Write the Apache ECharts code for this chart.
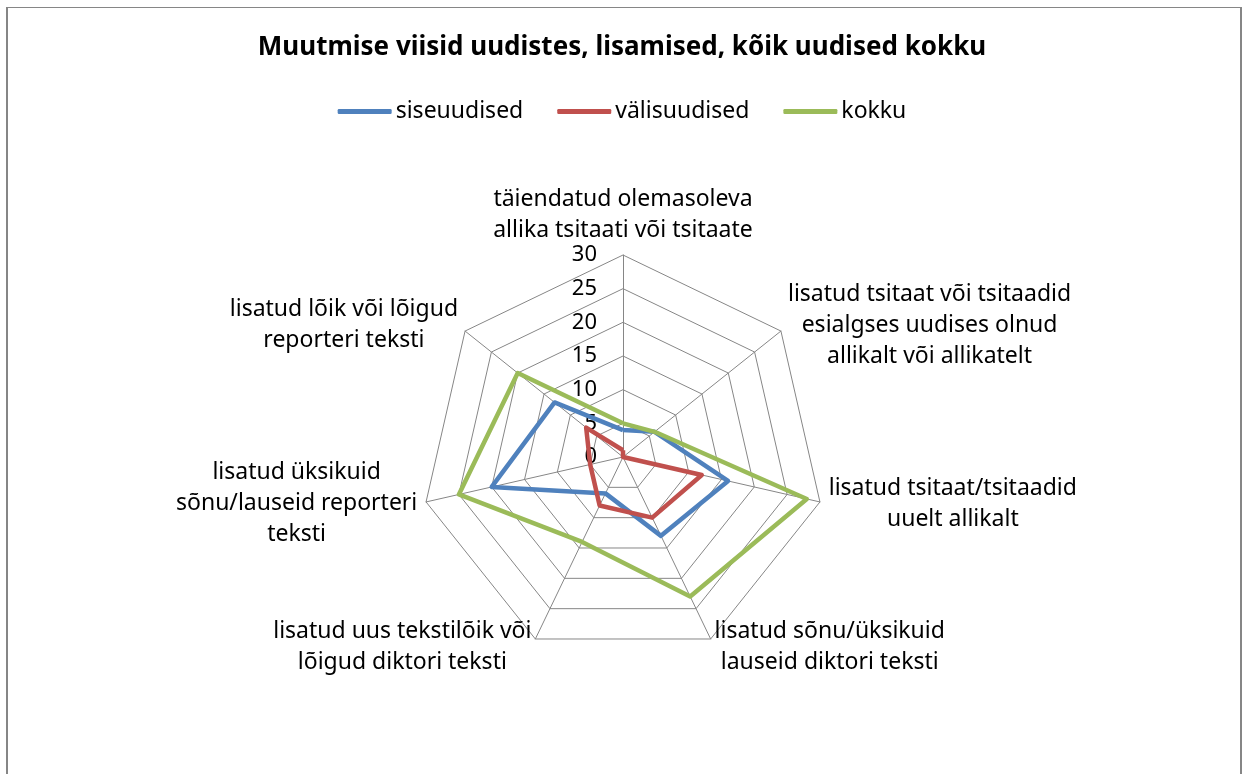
<!DOCTYPE html>
<html>
<head>
<meta charset="utf-8">
<title>Muutmise viisid uudistes</title>
<script src="https://cdn.jsdelivr.net/npm/echarts@6/dist/echarts.min.js"></script>
<style>
  html, body { margin: 0; padding: 0; background: #fff; }
  #wrap { position: relative; width: 1244px; height: 774px; overflow: hidden; }
  #frame { position: absolute; left: 6px; top: 7px; width: 1232px; height: 800px;
           border-left: 2px solid #868686; border-right: 2px solid #868686; border-top: 1px solid #868686; }
  #chart { position: absolute; left: 0; top: 0; width: 1244px; height: 774px; }
</style>
</head>
<body>
<div id="wrap">
  <div id="frame"></div>
  <div id="chart"></div>
</div>
<script>
// kategooriad (radari teljed, päripäeva ülevalt)
const categories = [
  'täiendatud olemasoleva\nallika tsitaati või tsitaate',
  'lisatud tsitaat või tsitaadid\nesialgses uudises olnud\nallikalt või allikatelt',
  'lisatud tsitaat/tsitaadid\nuuelt allikalt',
  'lisatud sõnu/üksikuid\nlauseid diktori teksti',
  'lisatud uus tekstilõik või\nlõigud diktori teksti',
  'lisatud üksikuid\nsõnu/lauseid reporteri\nteksti',
  'lisatud lõik või lõigud\nreporteri teksti'
]
const seriesNames = ['siseuudised', 'välisuudised', 'kokku']
const siseuudised = [4, 6, 16, 13, 6, 20, 13]
const valisuudised = [1, 0, 12, 10, 8, 5, 7]
const kokku = [5, 6, 28, 23, 14, 25, 20]
const axisMin = 0
const axisMax = 30
const axisStep = 5

const colors = ['#4F81BD', '#C0504D', '#9BBB59']
const font = '"Noto Sans", "DejaVu Sans", sans-serif'

const chart = echarts.init(document.getElementById('chart'))

// echarts paneb teljed vastupäeva, Excel päripäeva -> järjekord ümber (esimene jääb üles)
const order = categories.map((c, i) => (i === 0 ? 0 : categories.length - i))

const indicator = order.map((k, i) => {
  const ind = { name: categories[k], min: axisMin, max: axisMax }
  if (i === 0) ind.axisLabel = { show: true }
  return ind
})

const values = [siseuudised, valisuudised, kokku].map(arr => order.map(k => arr[k]))

const option = {
  backgroundColor: 'transparent',
  title: {
    text: 'Muutmise viisid uudistes, lisamised, kõik uudised kokku',
    left: 'center',
    top: 30,
    textStyle: { fontFamily: font, fontSize: 26, fontWeight: 'bold', color: '#000' }
  },
  legend: {
    top: 95,
    left: 'center',
    itemWidth: 54,
    itemHeight: 5,
    itemGap: 34,
    icon: 'roundRect',
    data: seriesNames,
    textStyle: { fontFamily: font, fontSize: 23, color: '#000', padding: [0, 0, 0, -1] }
  },
  radar: {
    center: [623, 457],
    radius: 202,
    startAngle: 90,
    shape: 'polygon',
    splitNumber: (axisMax - axisMin) / axisStep,
    indicator: indicator,
    nameGap: 9,
    axisName: {
      color: '#000',
      fontFamily: font,
      fontSize: 23,
      formatter: function (name) { return '{a|' + name + '}' },
      rich: {
        a: { align: 'center', fontFamily: font, fontSize: 23, lineHeight: 31, color: '#000' }
      }
    },
    axisLine: { lineStyle: { color: '#868686', width: 1 } },
    splitLine: { lineStyle: { color: '#868686', width: 1 } },
    splitArea: { show: false },
    axisTick: { show: false },
    axisLabel: {
      show: false,
      color: '#000',
      fontFamily: font,
      fontSize: 22,
      margin: 26
    }
  },
  series: [{
    type: 'radar',
    symbol: 'none',
    silent: true,
    data: seriesNames.map((n, i) => ({
      name: n,
      value: values[i],
      lineStyle: { color: colors[i], width: 4.5 },
      itemStyle: { color: colors[i] }
    }))
  }]
}

chart.setOption(option)
</script>
</body>
</html>
